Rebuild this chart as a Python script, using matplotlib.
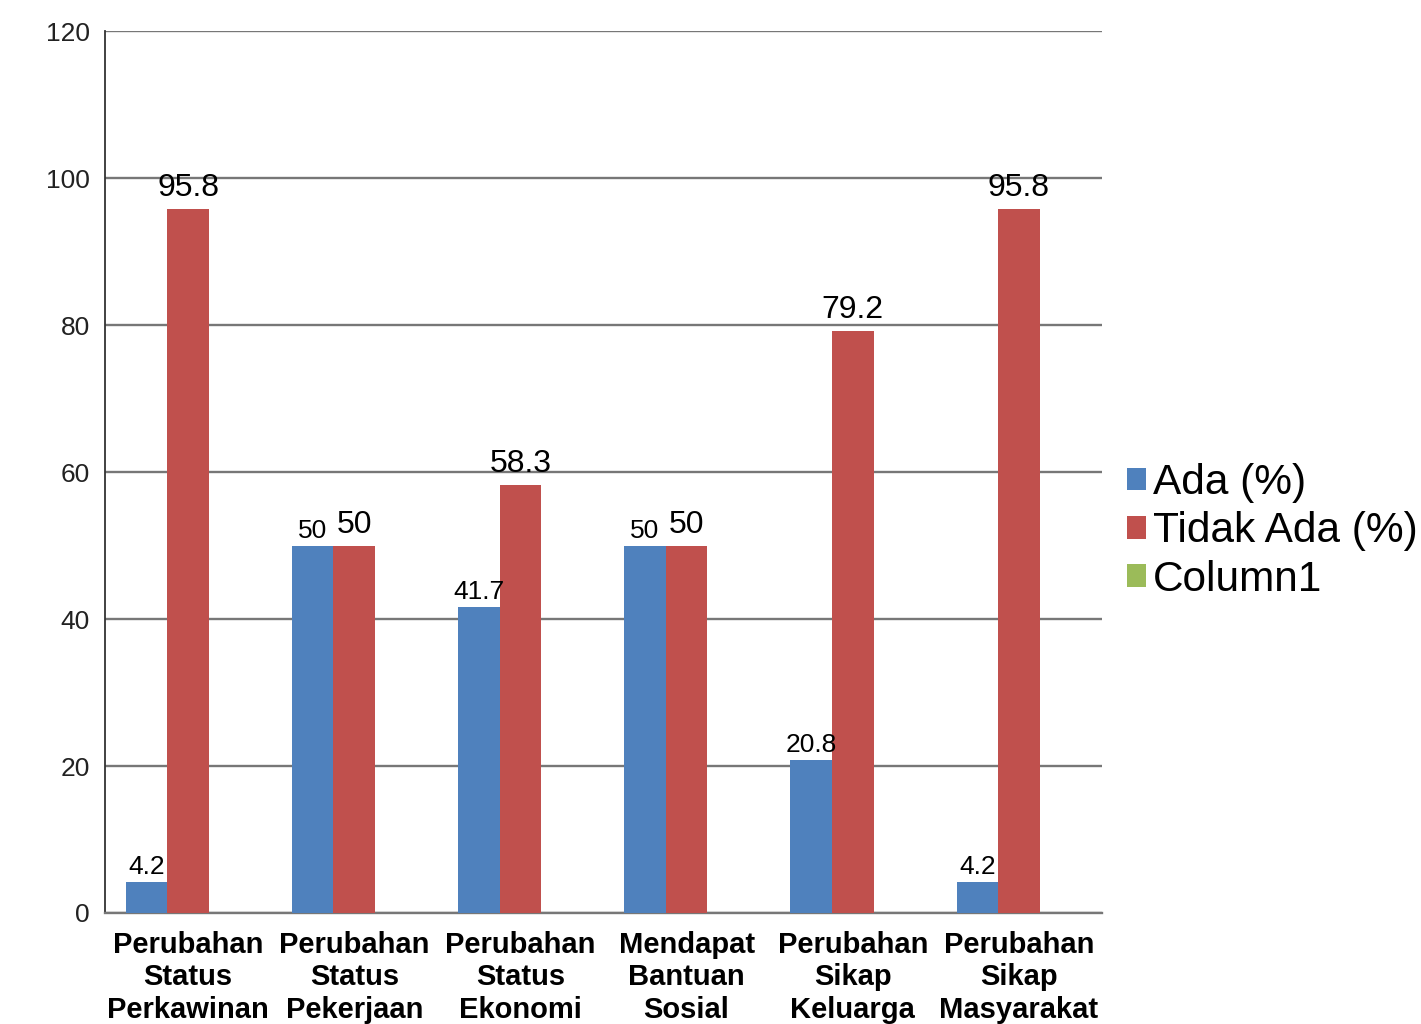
import matplotlib
matplotlib.use('Agg')
import matplotlib.pyplot as plt
import numpy as np

plt.rcParams['font.family'] = ['Liberation Sans', 'DejaVu Sans']

categories = ['Perubahan\nStatus\nPerkawinan', 'Perubahan\nStatus\nPekerjaan',
              'Perubahan\nStatus\nEkonomi', 'Mendapat\nBantuan\nSosial',
              'Perubahan\nSikap\nKeluarga', 'Perubahan\nSikap\nMasyarakat']
ada = [4.2, 50, 41.7, 50, 20.8, 4.2]
tidak_ada = [95.8, 50, 58.3, 50, 79.2, 95.8]
column1 = [0, 0, 0, 0, 0, 0]

blue = '#4F81BD'
red = '#C0504D'
green = '#9BBB59'

fig = plt.figure(figsize=(14.21, 10.24), dpi=100, facecolor='w')
ax = fig.add_axes([0.0739, 0.1084, 0.7016, 0.8613])

x = np.arange(len(categories))
w = 0.25
b1 = ax.bar(x - w, ada, w, color=blue, label='Ada (%)', zorder=3)
b2 = ax.bar(x, tidak_ada, w, color=red, label='Tidak Ada (%)', zorder=3)
b3 = ax.bar(x + w, column1, w, color=green, label='Column1', zorder=3)

ax.bar_label(b1, labels=[f'{v:g}' for v in ada], fontsize=19, padding=2)
ax.bar_label(b2, labels=[f'{v:g}' for v in tidak_ada], fontsize=23, padding=4)

ax.set_xlim(-0.5, len(categories) - 0.5)
ax.set_ylim(0, 120)
ax.set_yticks(range(0, 121, 20))
ax.yaxis.grid(True, color='#777777', linewidth=1.7, zorder=0)
ax.set_axisbelow(True)

ax.set_xticks(x)
ax.set_xticklabels(categories, fontsize=21, fontweight='bold', linespacing=1.2)
ax.tick_params(axis='x', length=0, pad=13)
ax.tick_params(axis='y', length=0, pad=11, labelsize=19, labelcolor='#222222')

for s in ['right', 'top']:
    ax.spines[s].set_visible(False)
ax.spines['left'].set_color('#333333')
ax.spines['left'].set_linewidth(1.3)
ax.spines['bottom'].set_color('#777777')
ax.spines['bottom'].set_linewidth(1.7)

fig.legend(handles=[b1, b2, b3], loc='center left', bbox_to_anchor=(0.7785, 0.481),
           frameon=False, fontsize=30.5, handlelength=0.45, handleheight=0.45,
           handletextpad=0.15, labelspacing=0.2, borderpad=0)

fig.savefig('out.png', dpi=100)
